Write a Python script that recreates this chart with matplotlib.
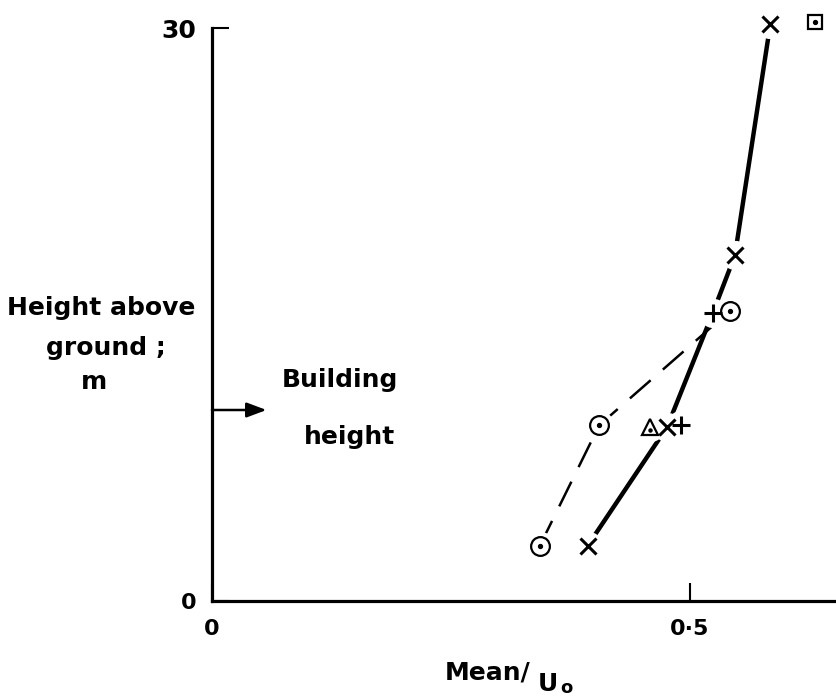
import numpy as np
import matplotlib.pyplot as plt

# Dados (altura em m, velocidade media / U0)
circ_x = [0.343, 0.405, 0.542]
circ_y = [2.9, 9.2, 15.2]
cross_x = [0.393, 0.476, 0.547, 0.584]
cross_y = [2.9, 9.1, 18.1, 30.2]
plus_x = [0.491, 0.524]
plus_y = [9.2, 15.1]
tri_x = [0.458]
tri_y = [9.1]
sq_x = [0.631]
sq_y = [30.3]

# linha cheia (ajuste a mao) e linha tracejada
solid_x = [0.393, 0.476, 0.524, 0.547, 0.584]
solid_y = [2.9, 9.1, 15.1, 18.1, 30.2]
dash_x = circ_x
dash_y = circ_y

building_height = 10

W, H = 837, 700
fig = plt.figure(figsize=(W / 100, H / 100), dpi=100)
ax = fig.add_axes([212 / W, 99 / H, (W - 212) / W, (601 - 28) / H])

ax.set_xlim(0, (W - 212) / 956)
ax.set_ylim(0, 30)

for s in ['top', 'right']:
    ax.spines[s].set_visible(False)
for s in ['left', 'bottom']:
    ax.spines[s].set_linewidth(2.3)

ax.set_xticks([0, 0.5])
ax.set_xticklabels(['0', '0·5'], fontweight='bold')
ax.set_yticks([0, 30])
ax.set_yticklabels(['0', '30'], fontweight='bold')
ax.tick_params(axis='x', direction='in', length=13, width=1.5, pad=13, labelsize=16)
ax.tick_params(axis='y', direction='in', length=12, width=1.5, pad=11, labelsize=16)
ax.get_yticklabels()[1].set_fontsize(18)

# Linhas
ax.plot(solid_x, solid_y, color='black', lw=3.2, zorder=2, solid_capstyle='butt')
ax.plot(dash_x, dash_y, color='black', lw=1.8, dashes=(11, 6.5), zorder=2)

# "halo" branco para deixar as linhas afastadas dos marcadores
all_x = circ_x + cross_x + plus_x + tri_x + sq_x
all_y = circ_y + cross_y + plus_y + tri_y + sq_y
ax.plot(all_x, all_y, 'o', ms=20, color='white', zorder=3, clip_on=False)

# Marcadores
ax.plot(circ_x, circ_y, 'o', ms=13.5, mfc='white', mec='black', mew=1.6, zorder=4, clip_on=False)
ax.plot(circ_x, circ_y, 'o', ms=2.8, color='black', zorder=5, clip_on=False)
ax.plot(cross_x, cross_y, 'x', ms=12, mec='black', mew=2.2, zorder=4, clip_on=False)
ax.plot(plus_x, plus_y, '+', ms=13, mec='black', mew=2.2, zorder=4, clip_on=False)
ax.plot(tri_x, tri_y, '^', ms=11, mfc='white', mec='black', mew=1.6, zorder=4, clip_on=False)
ax.plot(tri_x, [v - 0.15 for v in tri_y], 'o', ms=2.2, color='black', zorder=5, clip_on=False)
ax.plot(sq_x, sq_y, 's', ms=10, mfc='white', mec='black', mew=1.6, zorder=4, clip_on=False)
ax.plot(sq_x, sq_y, 'o', ms=2.8, color='black', zorder=5, clip_on=False)

# Seta da altura do edificio
ax.annotate('', xy=(0.057, building_height), xytext=(0, building_height),
            arrowprops=dict(arrowstyle='-|>,head_length=1.2,head_width=0.45',
                            color='black', lw=1.8, shrinkA=0, shrinkB=0))

def ptext(x, y, s, **kw):
    kw.setdefault('fontsize', 18)
    fig.text(x / W, 1 - y / H, s, fontweight='bold', ha='center', va='center', **kw)

ptext(101, 308, 'Height above')
ptext(106, 348, 'ground ;')
ptext(94, 382, 'm')
ptext(340, 380, 'Building')
ptext(350, 437, 'height')
ptext(488, 673, 'Mean/')
ptext(548, 684, 'U')
ptext(566, 688, 'o', fontsize=13)

fig.savefig('out.png', dpi=100)
